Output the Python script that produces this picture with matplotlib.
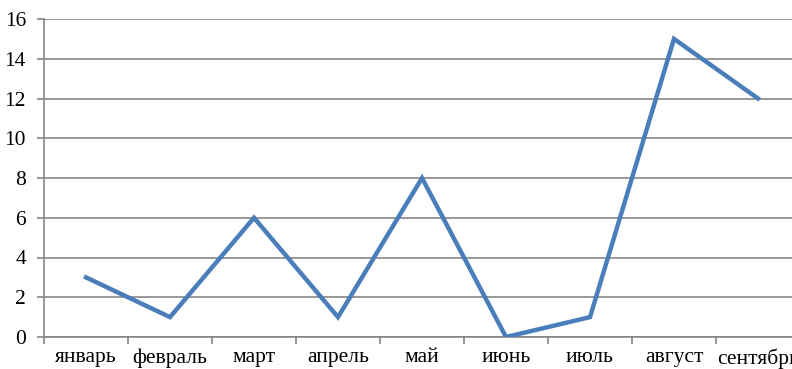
import matplotlib.pyplot as plt
import numpy as np

months = ["январь", "февраль", "март", "апрель", "май", "июнь", "июль", "август", "сентябрь"]
values = [3, 1, 6, 1, 8, 0, 1, 15, 12]
yticks = [0, 2, 4, 6, 8, 10, 12, 14, 16]

plt.rcParams["font.family"] = ["Liberation Serif", "DejaVu Serif"]

fig = plt.figure(figsize=(7.92, 3.69), dpi=100)
W, H = 792, 369
ax = fig.add_axes([44 / W, (H - 337) / H, (800 - 44) / W, (337 - 19) / H])

grid = "#868686"
x = np.arange(len(months)) + 0.5
ax.plot(x, values, color="#4a7ebb", lw=3.2, solid_joinstyle="miter", zorder=3)

ax.set_xlim(0, len(months))
ax.set_ylim(0, 16)
ax.set_yticks(yticks)
ax.yaxis.grid(True, color=grid, lw=1.2)
ax.set_axisbelow(True)

ax.set_xticks(np.arange(len(months) + 1))
ax.set_xticklabels([])
ax.set_xticks(x, minor=True)
ax.set_xticklabels(months, minor=True)
ax.tick_params(axis="x", which="major", length=5, color=grid, width=1.2)
ax.tick_params(axis="x", which="minor", length=0, pad=8, labelsize=15.5)
ax.tick_params(axis="y", length=5, color=grid, width=1.2, labelsize=15.5, pad=8)

for s in ["top", "right"]:
    ax.spines[s].set_visible(False)
for s in ["left", "bottom"]:
    ax.spines[s].set_color(grid)
    ax.spines[s].set_linewidth(1.2)

fig.savefig("out.png", dpi=100)
